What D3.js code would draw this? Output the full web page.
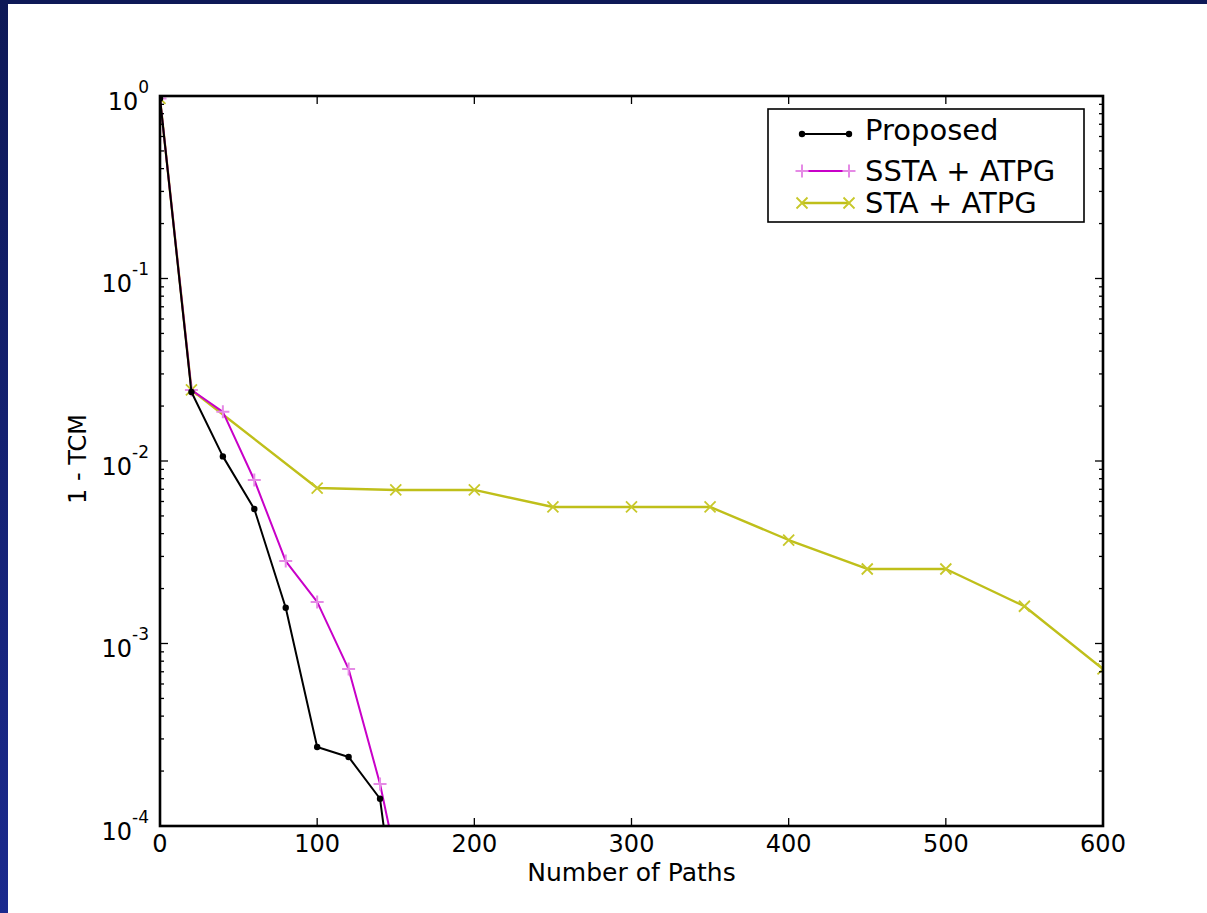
<!DOCTYPE html>
<html>
<head>
<meta charset="utf-8">
<script src="https://cdn.jsdelivr.net/npm/d3@7/dist/d3.min.js"></script>
<style>
  html, body { margin: 0; padding: 0; background: #ffffff; }
  svg { display: block; }
  text { font-family: "DejaVu Sans", sans-serif; fill: #000; }
</style>
</head>
<body>
<svg id="chart" width="1207" height="913"></svg>
<script>
// ---- data ----
const proposedX = [0, 20, 40, 60, 80, 100, 120, 140, 160];
const proposedY = [0.97, 0.0239, 0.0106, 0.00546, 0.00157, 0.000271, 0.000239, 0.000141, 0.000007];

const sstaX = [0, 20, 40, 60, 80, 100, 120, 140, 160];
const sstaY = [0.97, 0.0245, 0.0186, 0.00787, 0.00283, 0.00169, 0.000724, 0.00017, 0.000026];

const staX = [0, 20, 100, 150, 200, 250, 300, 350, 400, 450, 500, 550, 600];
const staY = [0.97, 0.0245, 0.00711, 0.00694, 0.00694, 0.0056, 0.0056, 0.0056, 0.00369, 0.00256, 0.00256, 0.0016, 0.000725];

const seriesNames = ["Proposed", "SSTA + ATPG", "STA + ATPG"];
const xTicks = [0, 100, 200, 300, 400, 500, 600];
const yExponents = [0, -1, -2, -3, -4];
const xLabel = "Number of Paths";
const yLabel = "1 - TCM";

// ---- layout ----
const svg = d3.select("#chart");
const W = 1207, H = 913;
const plot = { left: 160, top: 96, right: 1103, bottom: 826 };

// slide frame: dark blue strip along top and left edges
const defs = svg.append("defs");
const grad = defs.append("linearGradient").attr("id", "frameGrad")
  .attr("x1", 0).attr("y1", 0).attr("x2", 0).attr("y2", 1);
grad.append("stop").attr("offset", "0%").attr("stop-color", "#0e1957");
grad.append("stop").attr("offset", "100%").attr("stop-color", "#1b2a8e");
svg.append("rect").attr("x", 0).attr("y", 0).attr("width", W).attr("height", 4).attr("fill", "#0e1957");
svg.append("rect").attr("x", 0).attr("y", 0).attr("width", 8).attr("height", H).attr("fill", "url(#frameGrad)");

defs.append("clipPath").attr("id", "plotClip").append("rect")
  .attr("x", plot.left).attr("y", plot.top)
  .attr("width", plot.right - plot.left).attr("height", plot.bottom - plot.top);

const x = d3.scaleLinear().domain([0, 600]).range([plot.left, plot.right]);
const y = d3.scaleLog().domain([1e-4, 1]).range([plot.bottom, plot.top]);

// ---- series ----
const series = [
  { name: seriesNames[0], xs: proposedX, ys: proposedY, color: "#000000", markColor: "#000000", marker: "dot", width: 2 },
  { name: seriesNames[1], xs: sstaX, ys: sstaY, color: "#c800c8", markColor: "#e58ae5", marker: "plus", width: 2 },
  { name: seriesNames[2], xs: staX, ys: staY, color: "#bfbf1a", markColor: "#c8c82a", marker: "cross", width: 2.4 }
];

function drawMarker(g, type, cx, cy, color) {
  if (type === "dot") {
    g.append("circle").attr("cx", cx).attr("cy", cy).attr("r", 3.2).attr("fill", color);
  } else if (type === "plus") {
    const s = 6.5;
    g.append("path").attr("d", `M${cx - s},${cy}H${cx + s}M${cx},${cy - s}V${cy + s}`)
      .attr("stroke", color).attr("stroke-width", 2).attr("fill", "none");
  } else {
    const s = 5.5;
    g.append("path").attr("d", `M${cx - s},${cy - s}L${cx + s},${cy + s}M${cx - s},${cy + s}L${cx + s},${cy - s}`)
      .attr("stroke", color).attr("stroke-width", 1.8).attr("fill", "none");
  }
}

const dataG = svg.append("g").attr("clip-path", "url(#plotClip)");
const line = d3.line().x(d => x(d[0])).y(d => y(d[1]));

// draw order: STA first, then SSTA, then Proposed on top
[series[2], series[1], series[0]].forEach(s => {
  const pts = s.xs.map((v, i) => [v, s.ys[i]]);
  dataG.append("path").datum(pts).attr("d", line)
    .attr("fill", "none").attr("stroke", s.color).attr("stroke-width", s.width)
    .attr("stroke-linejoin", "round");
  const mg = dataG.append("g");
  pts.forEach(p => drawMarker(mg, s.marker, x(p[0]), y(p[1]), s.markColor));
});

// ---- ticks (inward, on all four sides) ----
const tickG = svg.append("g").attr("stroke", "#000").attr("stroke-width", 1.3);
xTicks.forEach(t => {
  const px = x(t);
  tickG.append("line").attr("x1", px).attr("x2", px).attr("y1", plot.bottom).attr("y2", plot.bottom - 8);
  tickG.append("line").attr("x1", px).attr("x2", px).attr("y1", plot.top).attr("y2", plot.top + 8);
});
yExponents.forEach(e => {
  const py = y(Math.pow(10, e));
  tickG.append("line").attr("x1", plot.left).attr("x2", plot.left + 8).attr("y1", py).attr("y2", py);
  tickG.append("line").attr("x1", plot.right).attr("x2", plot.right - 8).attr("y1", py).attr("y2", py);
  if (e > -4) {
    for (let k = 2; k <= 9; k++) {
      const v = k * Math.pow(10, e - 1);
      const my = y(v);
      tickG.append("line").attr("x1", plot.left).attr("x2", plot.left + 4).attr("y1", my).attr("y2", my);
      tickG.append("line").attr("x1", plot.right).attr("x2", plot.right - 4).attr("y1", my).attr("y2", my);
    }
  }
});

// frame
svg.append("rect").attr("x", plot.left).attr("y", plot.top)
  .attr("width", plot.right - plot.left).attr("height", plot.bottom - plot.top)
  .attr("fill", "none").attr("stroke", "#000").attr("stroke-width", 2.6);

// ---- tick labels ----
xTicks.forEach(t => {
  svg.append("text").attr("x", x(t)).attr("y", 852)
    .attr("text-anchor", "middle").attr("font-size", 24).text(t);
});
yExponents.forEach(e => {
  const py = y(Math.pow(10, e));
  const t = svg.append("text").attr("x", 149).attr("y", py + 13.5)
    .attr("text-anchor", "end").attr("font-size", 24);
  t.append("tspan").text("10");
  t.append("tspan").attr("font-size", 17).attr("dy", -17).text(String(e));
});

// ---- axis labels ----
svg.append("text").attr("x", (plot.left + plot.right) / 2) .attr("y", 881)
  .attr("text-anchor", "middle").attr("font-size", 25).text(xLabel);
svg.append("text").attr("transform", "translate(86,459) rotate(-90)")
  .attr("text-anchor", "middle").attr("font-size", 24).text(yLabel);

// ---- legend ----
const lg = svg.append("g");
lg.append("rect").attr("x", 768).attr("y", 109).attr("width", 316).attr("height", 113)
  .attr("fill", "#fff").attr("stroke", "#000").attr("stroke-width", 1.6);
const rowY = [134, 171, 203];
const textBase = [140, 181, 213];
series.forEach((s, i) => {
  const ry = rowY[i];
  lg.append("line").attr("x1", 802).attr("x2", 849).attr("y1", ry).attr("y2", ry)
    .attr("stroke", s.color).attr("stroke-width", s.width);
  drawMarker(lg, s.marker, 802, ry, s.markColor);
  drawMarker(lg, s.marker, 849, ry, s.markColor);
  lg.append("text").attr("x", 865).attr("y", textBase[i]).attr("font-size", 29).text(s.name);
});
</script>
</body>
</html>
